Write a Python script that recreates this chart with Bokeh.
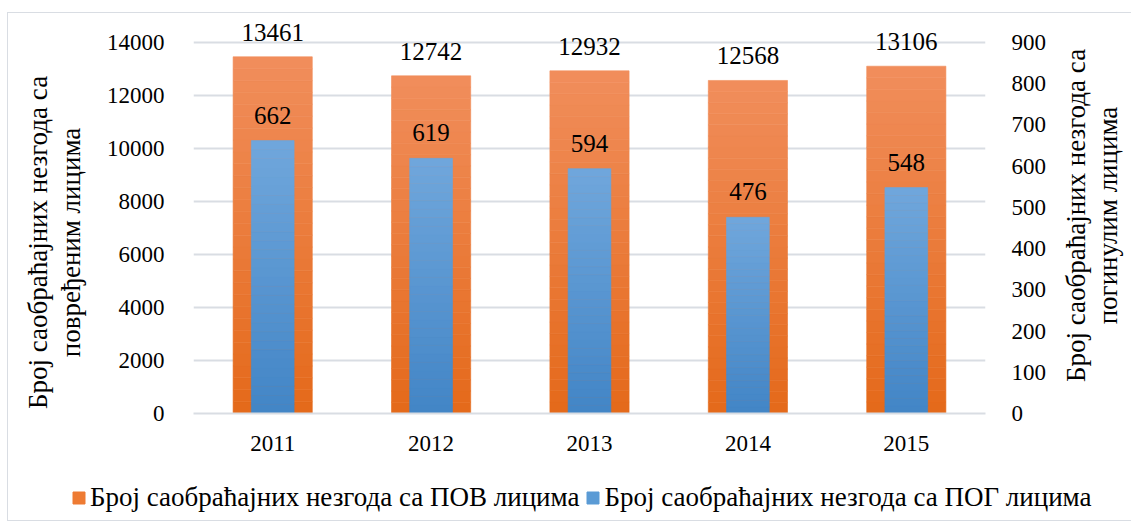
import math
from bokeh.plotting import figure
from bokeh.layouts import row, column
from bokeh.models import (Range1d, FactorRange, LinearAxis, ColumnDataSource, LabelSet,
                          Legend, LegendItem, SingleIntervalTicker)
from bokeh.core.properties import value
from bokeh.embed import file_html
from bokeh.resources import INLINE

years = ["2011", "2012", "2013", "2014", "2015"]
pov = [13461, 12742, 12932, 12568, 13106]   # left axis (injured)
pog = [662, 619, 594, 476, 548]             # right axis (killed)

pov_name = "Број саобраћајних незгода са ПОВ лицима"
pog_name = "Број саобраћајних незгода са ПОГ лицима"
left_title = ["Број саобраћајних незгода са", "повређеним лицима"]
right_title = ["Број саобраћајних незгода са", "погинулим лицима"]

left_max, left_step = 14000, 2000
right_max, right_step = 900, 100

FONT = "Liberation Serif"
GRID = "#D9DDE3"
TICK_FS = "23px"
TITLE_FS = "27px"
VAL_FS = "25px"

# sizes (px)
LW, RW = 95, 87                 # title strips
ML, MR, MT, MB = 88, 60, 5, 50  # main figure borders
FW, FH = 792, 395               # frame
GRID_H = 371                    # height of the 0..max span inside the frame
ROW_H = MT + FH + MB
TOTAL_W = LW + ML + FW + MR + RW
LEG_H = 57
ext = FH / GRID_H

def lerp(c1, c2, t):
    a = [int(c1[i:i + 2], 16) for i in (1, 3, 5)]
    b = [int(c2[i:i + 2], 16) for i in (1, 3, 5)]
    return "#%02x%02x%02x" % tuple(round(a[k] + (b[k] - a[k]) * t) for k in range(3))

def gradient_source(cats, vals, bottom_col, top_col, n=30):
    xs, bots, tops, cols = [], [], [], []
    for c, v in zip(cats, vals):
        for i in range(n):
            xs.append(c)
            bots.append(v * i / n)
            tops.append(v * (i + 1) / n)
            cols.append(lerp(bottom_col, top_col, (i + 0.5) / n))
    return ColumnDataSource(dict(x=xs, bottom=bots, top=tops, color=cols))

def blank(w, h):
    f = figure(width=w, height=h, x_range=Range1d(0, w), y_range=Range1d(0, h),
               min_border=0, x_axis_type=None, y_axis_type=None,
               output_backend="svg", toolbar_location=None)
    f.frame_width = w
    f.frame_height = h
    f.grid.visible = False
    f.outline_line_color = None
    return f

# ---------------- main chart ----------------
p = figure(x_range=FactorRange(*years), y_range=Range1d(0, left_max * ext),
           frame_width=FW, frame_height=FH,
           min_border_left=ML, min_border_top=MT, min_border_right=MR, min_border_bottom=MB,
           output_backend="svg", toolbar_location=None)
p.extra_y_ranges = {"right": Range1d(0, right_max * ext)}
p.outline_line_color = None
p.xgrid.grid_line_color = None
p.ygrid.grid_line_color = GRID
p.ygrid.grid_line_width = 2

src_pov = gradient_source(years, pov, "#E4691A", "#F18E5C")
src_pog = gradient_source(years, pog, "#4285C6", "#70A7DC")
p.vbar(x="x", bottom="bottom", top="top", width=0.5, source=src_pov,
       fill_color="color", line_color="color", line_width=0.6)
p.vbar(x="x", bottom="bottom", top="top", width=0.27, source=src_pog,
       fill_color="color", line_color="color", line_width=0.6, y_range_name="right")

lab_pov = ColumnDataSource(dict(x=years, y=pov, t=[str(v) for v in pov]))
lab_pog = ColumnDataSource(dict(x=years, y=pog, t=[str(v) for v in pog]))
p.add_layout(LabelSet(x="x", y="y", text="t", source=lab_pov, text_align="center",
                      text_baseline="alphabetic", y_offset=16, text_font=FONT,
                      text_font_size=VAL_FS, text_color="#000000"))
p.add_layout(LabelSet(x="x", y="y", text="t", source=lab_pog, text_align="center",
                      text_baseline="alphabetic", y_offset=17, text_font=FONT,
                      text_font_size=VAL_FS, text_color="#000000", y_range_name="right"))

p.xaxis.axis_line_color = GRID
p.xaxis.axis_line_width = 2
p.xaxis.major_tick_line_color = None
p.xaxis.minor_tick_line_color = None
p.xaxis.major_label_standoff = 16
p.xaxis.major_label_text_font = FONT
p.xaxis.major_label_text_font_size = TICK_FS
p.xaxis.major_label_text_color = "#000000"

yl = p.yaxis[0]
yl.ticker = SingleIntervalTicker(interval=left_step)
p.ygrid.ticker = yl.ticker
yl.axis_line_color = None
yl.major_tick_line_color = None
yl.minor_tick_line_color = None
yl.major_label_standoff = 23
yl.major_label_text_font = FONT
yl.major_label_text_font_size = TICK_FS
yl.major_label_text_color = "#000000"

yr = LinearAxis(y_range_name="right", ticker=SingleIntervalTicker(interval=right_step))
yr.axis_line_color = None
yr.major_tick_line_color = None
yr.minor_tick_line_color = None
yr.major_label_standoff = 20
yr.major_label_text_font = FONT
yr.major_label_text_font_size = TICK_FS
yr.major_label_text_color = "#000000"
p.add_layout(yr, "right")

# ---------------- axis titles (rotated, reading upwards) ----------------
lt = blank(LW, ROW_H)
lt.text(x=[29, 62], y=[ROW_H - 224] * 2, text=left_title, angle=math.pi / 2,
        text_align="center", text_baseline="middle", text_font=value(FONT),
        text_font_size=TITLE_FS, text_color="#000000")

rt = blank(RW, ROW_H)
rt.text(x=[26, 58], y=[ROW_H - 197] * 2, text=right_title, angle=math.pi / 2,
        text_align="center", text_baseline="middle", text_font=value(FONT),
        text_font_size=TITLE_FS, text_color="#000000")

# ---------------- legend strip ----------------
lg = blank(TOTAL_W, LEG_H)
pr1 = lg.quad(left=[-20], right=[-10], bottom=[-20], top=[-10],
              fill_color="#EE7B33", line_color="#EE7B33")
pr2 = lg.quad(left=[-20], right=[-10], bottom=[-20], top=[-10],
              fill_color="#5B9BD5", line_color="#5B9BD5")
legend = Legend(items=[LegendItem(label=pov_name, renderers=[pr1]),
                       LegendItem(label=pog_name, renderers=[pr2])],
                orientation="horizontal", location=(63, 7),
                glyph_width=15, glyph_height=15, label_standoff=4, spacing=6,
                padding=2, margin=0, border_line_color=None, background_fill_alpha=0,
                label_text_font=FONT, label_text_font_size=TITLE_FS,
                label_text_color="#000000", label_text_baseline="middle")
lg.add_layout(legend, "center")

layout = column(row(lt, p, rt), lg)
layout.styles = {"border": "1px solid #D9DDE3", "margin-left": "7px", "margin-top": "12px"}

open("out.html", "w").write(file_html(layout, INLINE))
